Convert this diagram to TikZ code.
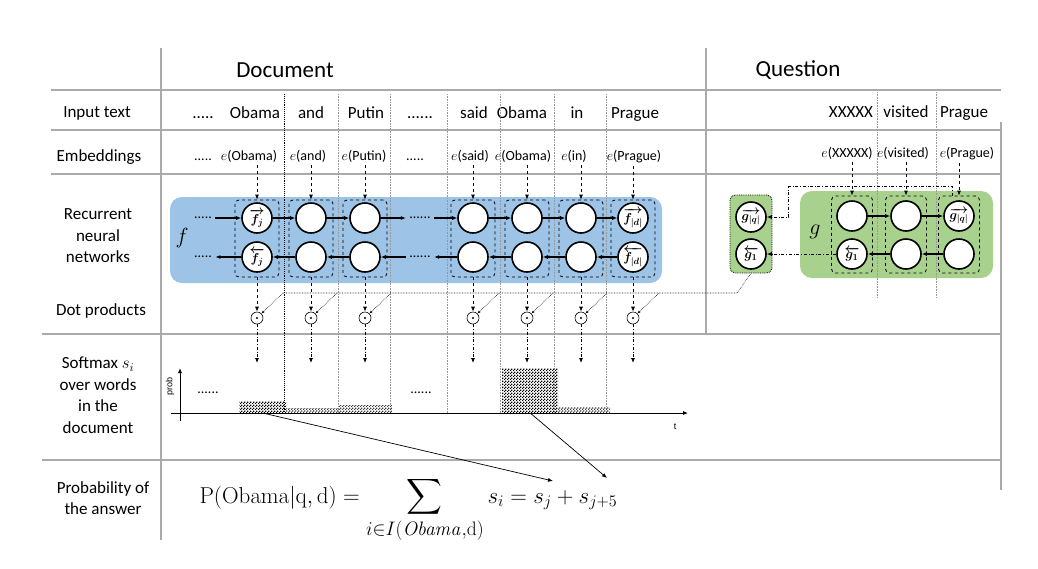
\RequirePackage{fix-cm}
\documentclass[tikz,border=0pt]{standalone}
\usepackage[no-math]{fontspec}
\setmainfont{Carlito}
\newfontfamily\axisfont{Liberation Sans}
\usepackage{amsmath}
\usetikzlibrary{arrows.meta}
\usetikzlibrary{patterns}
\usetikzlibrary{positioning}
\usetikzlibrary{calc}

\definecolor{rnnblue}{RGB}{157,195,230}
\definecolor{rnngreen}{RGB}{169,209,142}
\definecolor{tablegray}{RGB}{170,170,170}

\pgfdeclarepatternformonly{finechecker}{\pgfqpoint{0pt}{0pt}}{\pgfqpoint{3pt}{3pt}}{\pgfqpoint{3pt}{3pt}}{%
  \pgfpathrectangle{\pgfqpoint{0pt}{0pt}}{\pgfqpoint{1.5pt}{1.5pt}}%
  \pgfpathrectangle{\pgfqpoint{1.5pt}{1.5pt}}{\pgfqpoint{1.5pt}{1.5pt}}%
  \pgfusepath{fill}}

\tikzstyle{every node}=[font=\fontsize{17}{21.5}\selectfont]
\tikzstyle{tableline}=[tablegray,line width=1.3pt]
\tikzstyle{wordsep}=[gray!80,densely dotted,line width=0.6pt]
\tikzstyle{embfont}=[font=\fontsize{14}{16}\selectfont]
\tikzstyle{cell}=[circle,draw,line width=1.6pt,fill=white,minimum size=30pt,inner sep=0pt,font=\fontsize{13}{13}\selectfont]
\tikzstyle{colbox}=[draw,dashed,line width=0.8pt,rounded corners=4pt,minimum width=44pt,minimum height=77pt]
\tikzstyle{dotprod}=[circle,draw,line width=0.6pt,fill=white,minimum size=12pt,inner sep=0pt]
\tikzstyle{rnnarrow}=[line width=1.6pt,->]
\tikzstyle{embarrow}=[dashed,line width=0.8pt,->]
\tikzstyle{ddarrow}=[dash dot,line width=0.8pt,->]
\tikzstyle{tapline}=[densely dotted,line width=0.6pt]
\tikzstyle{probbar}=[pattern=finechecker,inner sep=0pt,anchor=south west]

\begin{document}
\begin{tikzpicture}[x=1pt,y=-1pt,>={Latex[length=5pt,width=4pt]}]
\useasboundingbox (0,0) rectangle (1038,568);

% table
\draw[tableline] (51,90)--(1001,90) (51,130)--(1001,130) (51,174)--(1001,174)
  (42,334)--(1001,334) (42,460)--(1001,460)
  (161,48)--(161,540) (706,48)--(706,334) (1001,122)--(1001,490);

% row titles
\node (rowinput) at (97,113) {Input text};
\node (rowemb) at (99,157) {Embeddings};
\node[align=center] (rowrnn) at (98,236) {Recurrent\\neural\\networks};
\node (rowdot) at (101,311) {Dot products};
\node[align=center] (rowsoft) at (98,395) {Softmax $s_i$\\over words\\in the\\document};
\node[align=center] (rowprob) at (103,498) {Probability of\\the answer};
\node[font=\fontsize{23}{26}\selectfont] (doctitle) at (285,70) {Document};
\node[font=\fontsize{23}{26}\selectfont] (qtitle) at (798,70) {Question};

% words
\node[anchor=base] (wdots1) at (203,118) {.....};
\node[anchor=base] (wdots2) at (420,118) {......};
\foreach \x/\word [count=\i] in {255/Obama,311/and,366/Putin,474/said,522/Obama,577/in,635/Prague}
  \node[anchor=base] (word\i) at (\x,118) {\word};
\foreach \x/\word [count=\i] in {851/XXXXX,906/visited,964/Prague}
  \node[anchor=base] (qword\i) at (\x,117) {\word};

% embeddings
\node[embfont,anchor=base] (edots1) at (203,160) {.....};
\node[embfont,anchor=base] (edots2) at (415,160) {.....};
\foreach \x/\word [count=\i] in {249/Obama,308/and,364/Putin,470/said,523/Obama,574/in,634/Prague}
  \node[embfont,anchor=base] (emb\i) at (\x,160) {$e$(\word)};
\foreach \x/\word [count=\i] in {847/XXXXX,903/visited,967/Prague}
  \node[embfont,anchor=base] (qemb\i) at (\x,157) {$e$(\word)};

% networks
\fill[rnnblue,rounded corners=12pt] (170,197) rectangle (662,283);
\fill[rnngreen,rounded corners=12pt] (800,191) rectangle (993,278);
\node[draw,densely dotted,line width=0.8pt,fill=rnngreen,rounded corners=5pt,
  minimum width=42pt,minimum height=78pt] (sumbox) at (751,234) {};

\foreach \x in {338,390,447,500,554,606} \draw[wordsep] (\x,94)--(\x,413);
\foreach \x in {877,936} \draw[wordsep] (\x,92)--(\x,298);

\node[font=\fontsize{22}{22}\selectfont] (flabel) at (182,238) {$f$};
\node[font=\fontsize{22}{22}\selectfont] (glabel) at (815,232) {$g$};

\foreach \x/\la/\lb [count=\i] in {257/{$\boldsymbol{\overrightarrow{f_j}}$}/{$\boldsymbol{\overleftarrow{f_j}}$},311//,365//,473//,527//,581//,633/{$\boldsymbol{\overrightarrow{f_{|d|}}}$}/{$\boldsymbol{\overleftarrow{f_{|d|}}}$}}{
  \node[colbox] (box\i) at (\x,238.5) {};
  \node[cell] (fa\i) at (\x,218) {\la};
  \node[cell] (fb\i) at (\x,257) {\lb};
  \node[dotprod] (dot\i) at (\x,318) {};
  \fill (dot\i.center) circle (1.2);
  \coordinate (tap\i) at (\x+26,293);
  \coordinate (soft\i) at (\x,363);
  \draw[embarrow] (emb\i.south -| box\i.north) -- (box\i.north);
  \draw[embarrow] (box\i.south) -- (dot\i.north);
  \draw[ddarrow] (dot\i.south) -- (soft\i);
  \draw[tapline,-{Latex[length=3pt,width=2.5pt]}] (tap\i) -- (dot\i.north east);
}

\node[embfont] (fdots1) at (203,218) {.....};
\node[embfont] (fdots2) at (420,218) {......};
\node[embfont] (fdots3) at (420,257) {......};
\node[embfont] (fdots4) at (203,257) {.....};
\draw[rnnarrow] (fdots1) -- (fa1);
\draw[rnnarrow] (fa3) -- (fdots2);
\draw[rnnarrow] (fdots2) -- (fa4);
\draw[rnnarrow] (fb4) -- (fdots3);
\draw[rnnarrow] (fdots3) -- (fb3);
\draw[rnnarrow] (fb1) -- (fdots4);
\foreach \i/\j in {1/2,2/3,4/5,5/6,6/7}{
  \draw[rnnarrow] (fa\i) -- (fa\j);
  \draw[rnnarrow] (fb\j) -- (fb\i);
}

\foreach \x/\la/\lb [count=\i] in {852//{$\boldsymbol{\overleftarrow{g_1}}$},906//,959/{$\boldsymbol{\overrightarrow{g_{|q|}}}$}/}{
  \node[colbox,minimum width=41pt] (qbox\i) at (\x,234.5) {};
  \node[cell] (ga\i) at (\x,216) {\la};
  \node[cell] (gb\i) at (\x,254) {\lb};
  \draw[embarrow] (qemb\i.south -| qbox\i.north) -- (qbox\i.north);
}
\draw[rnnarrow] (ga1) -- (ga2);
\draw[rnnarrow] (ga2) -- (ga3);
\draw[rnnarrow] (gb3) -- (gb2);
\draw[rnnarrow] (gb2) -- (gb1);

\node[cell] (sa) at (751,217) {$\boldsymbol{\overrightarrow{g_{|q|}}}$};
\node[cell] (sb) at (751,254) {$\boldsymbol{\overleftarrow{g_1}}$};
\draw[ddarrow] ([xshift=-7pt]qbox3.north) -- ++(0,-9) -| ($(sa.east)+(22,0)$) -- (sa.east);
\draw[ddarrow] (gb1) -- (sb);
\draw[tapline] (tap1) -- (737,293) -- (sumbox.south);

\draw[densely dotted,line width=0.9pt] (284,94) -- (284,413);

% softmax
\node[probbar,minimum width=47pt,minimum height=11pt] (bar1) at (239,413) {};
\node[probbar,pattern color=darkgray,minimum width=53pt,minimum height=4pt] (bar2) at (286,413) {};
\node[probbar,pattern color=darkgray,minimum width=53pt,minimum height=7pt] (bar3) at (339,413) {};
\node[probbar,minimum width=56pt,minimum height=44pt] (bar4) at (502,413) {};
\node[probbar,pattern color=darkgray,minimum width=52pt,minimum height=5pt] (bar5) at (558,413) {};
\node[embfont] (sdots1) at (208,393) {......};
\node[embfont] (sdots2) at (421,393) {......};
\draw[->,line width=0.8pt] (171,413) -- (688,413);
\draw[->,line width=0.8pt] (180,421) -- (180,368);
\node[rotate=90,font=\axisfont\fontsize{9}{9}\selectfont] (problabel) at (170,386) {prob};
\node[font=\axisfont\fontsize{9}{9}\selectfont] (tlabel) at (675,427) {t};

% answer
\node[anchor=base west,font=\fontsize{23}{27}\selectfont] (answer) at (196,503)
  {$\displaystyle \mathrm{P}(\mathrm{Obama}|\mathrm{q},\mathrm{d}) =
   \sum_{\mbox{\fontsize{19.5}{19.5}\selectfont$i{\in}I(\mathit{Obama}{,}\mathrm{d})$}} s_i = s_j + s_{j+5}$};
\coordinate (sjtop) at (553,481);
\coordinate (sjfivetop) at (607,478);
\draw[->,line width=0.7pt] (bar1.south) -- (sjtop);
\draw[->,line width=0.7pt] (bar4.south) -- (sjfivetop);
\end{tikzpicture}
\end{document}
